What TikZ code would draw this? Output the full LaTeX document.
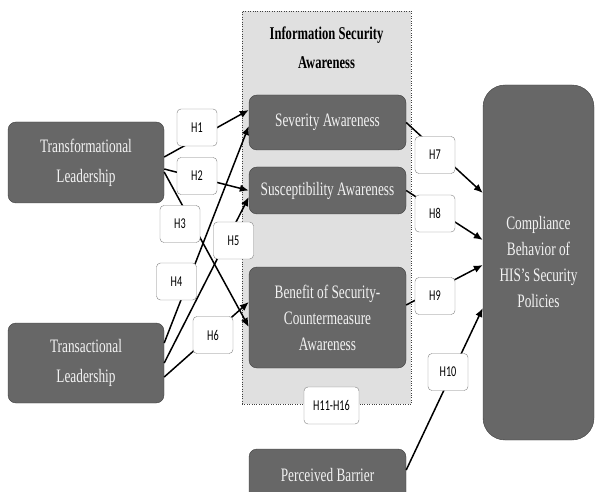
\documentclass[tikz,border=0pt]{standalone}
\usepackage{fontspec}
\setmainfont{Liberation Serif}[FakeStretch=0.7]
\newfontfamily\hfont{Carlito}[FakeStretch=0.68]
\usetikzlibrary{arrows.meta}
\usepackage{xcolor}
\definecolor{boxgray}{HTML}{676767}
\definecolor{boxline}{HTML}{3F3F3F}
\definecolor{boxtext}{HTML}{F2F2F2}
\definecolor{isagray}{HTML}{E0E0E0}

\begin{document}
\begin{tikzpicture}[x=1pt, y=-1pt,
  construct/.style={draw=boxline, fill=boxgray, text=boxtext, rounded corners=8pt,
    align=center, inner sep=0pt, font=\fontsize{19}{26}\selectfont},
  hyp/.style={draw=gray, fill=white, rounded corners=4pt, minimum width=40pt,
    minimum height=37pt, inner sep=0pt, font=\hfont\fontsize{15}{17}\selectfont},
  link/.style={-{Latex[length=9pt,width=7.5pt]}, line width=1.5pt}
]
\useasboundingbox (0,0) rectangle (595,492);

\node[draw=boxline, dotted, fill=isagray, minimum width=169pt, minimum height=393pt,
  inner sep=0pt] (isa) at (326.5,207.5) {};
\node[font=\bfseries\fontsize{18}{29}\selectfont, align=center] (isatitle) at (326.5,47.5)
  {Information Security\\Awareness};

\node[construct, minimum width=156pt, minimum height=81pt, font=\fontsize{19}{30}\selectfont]
  (tfl) at (86,162.5) {Transformational\\Leadership};
\node[construct, minimum width=156pt, minimum height=80pt, font=\fontsize{19}{30}\selectfont]
  (tsl) at (86,363) {Transactional\\Leadership};
\node[construct, minimum width=157pt, minimum height=55pt] (sev) at (327.5,122.5) {Severity Awareness};
\node[construct, minimum width=157pt, minimum height=47pt] (sus) at (327.5,190.5) {Susceptibility Awareness};
\node[construct, minimum width=157pt, minimum height=101pt] (ben) at (327.5,317.5)
  {Benefit of Security-\\Countermeasure\\Awareness};
\node[construct, minimum width=157pt, minimum height=51pt] (pb) at (327.5,474.5) {Perceived Barrier};
\node[construct, rounded corners=22pt, minimum width=111pt, minimum height=355pt] (cbp) at (538.5,262.5)
  {Compliance\\Behavior of\\HIS’s Security\\Policies};

\draw[link] ([yshift=5.5pt]tfl.east) -- ([yshift=12.5pt]sev.west);
\draw[link] ([yshift=-6.5pt]tfl.east) -- (sus.west);
\draw[link] ([yshift=-9.5pt]tfl.east) -- ([yshift=-9.5pt]ben.west);
\draw[link] ([yshift=20pt]tsl.east) -- ([yshift=-3.5pt]sev.west);
\draw[link] (tsl.east) -- ([yshift=-6.5pt]sus.west);
\draw[link] ([yshift=-14pt]tsl.east) -- ([yshift=15.5pt]ben.west);
\draw[link] (sev.east) -- ([yshift=69.5pt]cbp.west);
\draw[link] (sus.east) -- ([yshift=22.5pt]cbp.west);
\draw[link] ([yshift=12.5pt]ben.east) -- ([yshift=-2.5pt]cbp.west);
\draw[link] ([yshift=4.5pt]pb.east) -- ([yshift=-45.5pt]cbp.west);

\node[hyp] (h1) at (197,127.5) {H1};
\node[hyp] (h2) at (197,176) {H2};
\node[hyp] (h3) at (180,224) {H3};
\node[hyp] (h4) at (176.5,281.5) {H4};
\node[hyp] (h5) at (233.5,240.5) {H5};
\node[hyp] (h6) at (213,335) {H6};
\node[hyp] (h7) at (435,155) {H7};
\node[hyp] (h8) at (435,213.5) {H8};
\node[hyp] (h9) at (435,296) {H9};
\node[hyp] (h10) at (448,372) {H10};
\node[hyp, minimum width=55pt] (h11) at (331.5,405.5) {H11-H16};
\end{tikzpicture}
\end{document}
